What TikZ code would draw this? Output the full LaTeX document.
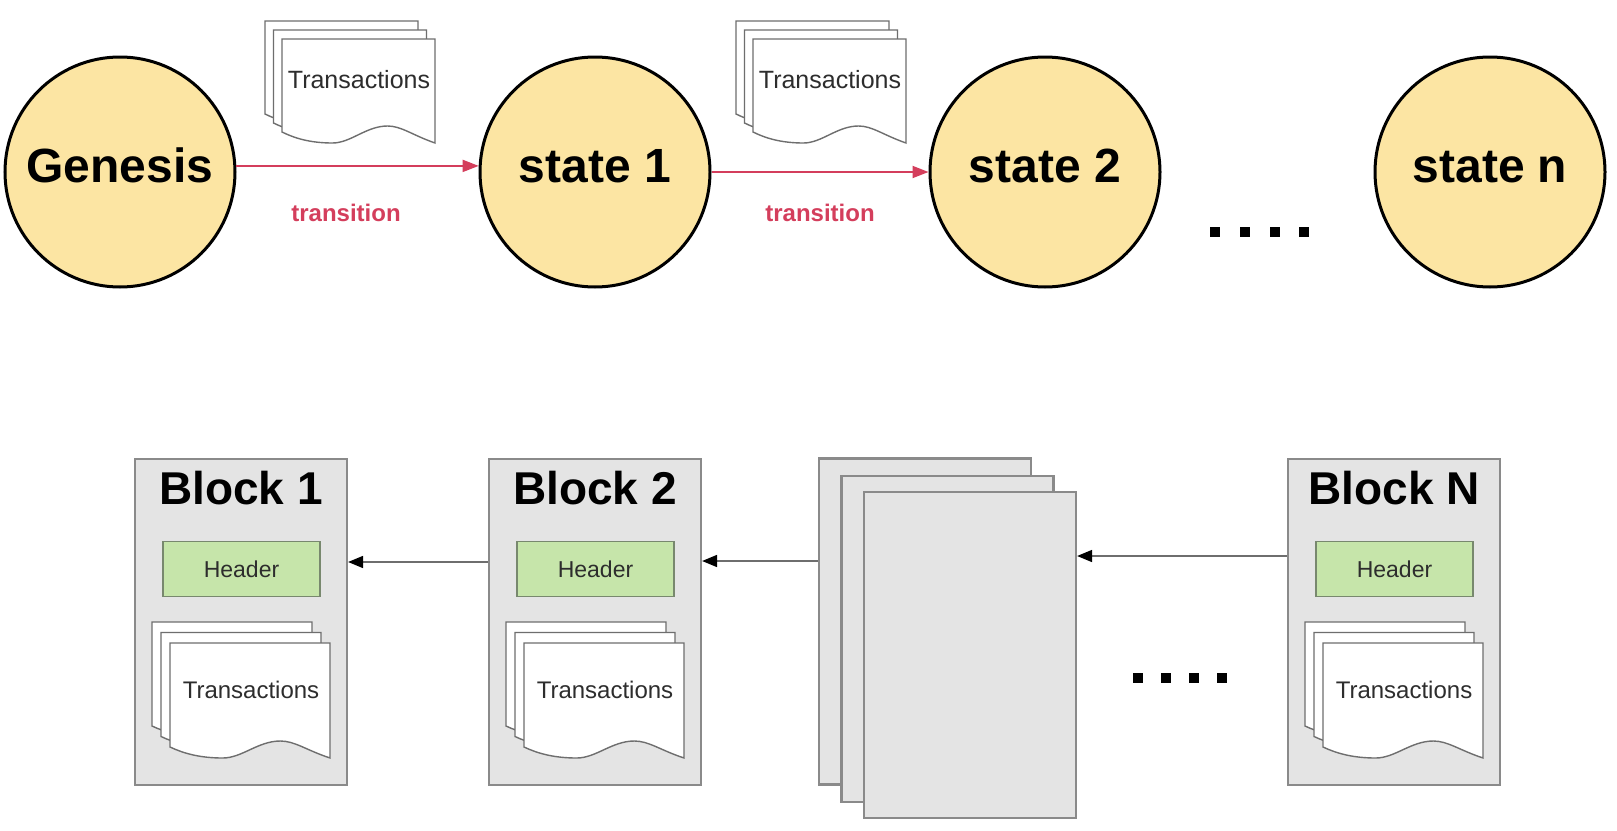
\documentclass[tikz,border=0pt]{standalone}
\usepackage{fontspec}
\setmainfont{Liberation Sans}
\usetikzlibrary{arrows.meta,calc}
\definecolor{circfill}{RGB}{252,229,163}
\definecolor{transred}{RGB}{212,62,92}
\definecolor{blockfill}{RGB}{228,228,228}
\definecolor{blockline}{RGB}{138,138,138}
\definecolor{hdrfill}{RGB}{198,229,170}
\definecolor{hdrline}{RGB}{120,136,110}
\definecolor{docline}{RGB}{110,110,110}
\definecolor{txtgray}{RGB}{45,45,45}
\newcommand\docsheet[4]{%
  \begin{scope}[shift={(#1,#2)}]
    \filldraw[docstroke] (0,0) -- (#3,0) -- (#3,#4)
      .. controls ({0.85*#3},{#4-8}) and ({0.78*#3},{#4-17}) .. ({0.69*#3},{#4-17})
      .. controls ({0.55*#3},{#4-17}) and ({0.45*#3},#4) .. ({0.33*#3},#4)
      .. controls ({0.18*#3},#4) and ({0.08*#3},{#4-5}) .. (0,{#4-11}) -- cycle;
  \end{scope}}
\newcommand\multidoc[6]{%
  \docsheet{#1}{#2}{#3}{#4}%
  \docsheet{#1+#5}{#2+#6}{#3}{#4}%
  \docsheet{#1+2*#5}{#2+2*#6}{#3}{#4}}
\tikzset{
  docstroke/.style={draw=docline, fill=white, line width=1.4pt},
  statenode/.style={circle, draw=black, fill=circfill, line width=3pt, minimum size=230, inner sep=0,
    text height=34pt, text depth=13pt,
    font=\bfseries\fontsize{48}{56}\selectfont},
  translabel/.style={text=transred, font=\bfseries\fontsize{24}{28}\selectfont, inner sep=0},
  redarrow/.style={draw=transred, line width=1.8pt, -{Triangle[length=16pt,width=12pt]}},
  blackarrow/.style={draw=docline, line width=1.6pt, -{Triangle[length=15pt,width=12pt,color=black,fill=black]}},
  blockbox/.style={draw=blockline, fill=blockfill, line width=2.2pt, minimum width=212, minimum height=326, inner sep=0},
  blocktitle/.style={font=\bfseries\fontsize{46}{52}\selectfont, inner sep=0},
  hdrbox/.style={draw=hdrline, fill=hdrfill, line width=1.8pt, minimum width=157, minimum height=55, inner sep=0,
    text=txtgray, font=\fontsize{23}{27}\selectfont},
  txtlabel/.style={text=txtgray, inner sep=0},
  dotsq/.style={fill=black, minimum size=10, inner sep=0},
}
\begin{document}
\begin{tikzpicture}[x=1pt, y=-1pt]
\useasboundingbox (0,0) rectangle (1617,830);
\fill[white] (0,0) rectangle (1617,830);

% ---------- top row ----------
\multidoc{265}{21}{153}{104}{8.5}{9}
\node[txtlabel, font=\fontsize{25}{29}\selectfont] (tx1) at (359,80) {Transactions};
\multidoc{736}{21}{153}{104}{8.5}{9}
\node[txtlabel, font=\fontsize{25}{29}\selectfont] (tx2) at (830,80) {Transactions};

\node[statenode] (gen) at (120,172) {Genesis};
\node[statenode] (s1) at (595,172) {state 1};
\node[statenode] (s2) at (1045,172) {state 2};
\node[statenode] (sn) at (1490,172) {state n};

\draw[redarrow] (gen.3) -- (s1.177);
\draw[redarrow] (s1.east) -- (s2.west);
\node[translabel] (t1) at (346,213) {transition};
\node[translabel] (t2) at (820,213) {transition};

\node[dotsq] (ta) at (1215,232) {};
\node[dotsq] (tb) at (1245,232) {};
\node[dotsq] (tc) at (1275,232) {};
\node[dotsq] (td) at (1304,232) {};

% ---------- bottom row ----------
% Block 1
\node[blockbox] (b1) at (241,622) {};
\node[blocktitle] (b1t) at (241,488) {Block 1};
\node[hdrbox] (h1) at (241.5,569) {Header};
\multidoc{152}{622}{160}{115}{9}{10.5}
\node[txtlabel, font=\fontsize{24}{28}\selectfont] (x1) at (251,690) {Transactions};

% Block 2
\node[blockbox] (b2) at (595,622) {};
\node[blocktitle] (b2t) at (595,488) {Block 2};
\node[hdrbox] (h2) at (595.5,569) {Header};
\multidoc{506}{622}{160}{115}{9}{10.5}
\node[txtlabel, font=\fontsize{24}{28}\selectfont] (x2) at (605,690) {Transactions};

% stack of pages
\node[blockbox] (pgb) at (925,621.5) {};
\node[blockbox] (pgm) at (947.5,639) {};
\node[blockbox] (pgf) at (970,655) {};

% Block N
\node[blockbox] (bN) at (1394,622) {};
\node[blocktitle] (bNt) at (1394,488) {Block N};
\node[hdrbox] (hN) at (1394.5,569) {Header};
\multidoc{1305}{622}{160}{115}{9}{10.5}
\node[txtlabel, font=\fontsize{24}{28}\selectfont] (xN) at (1404,690) {Transactions};

\draw[blackarrow] (b2.west |- 0,562) -- (b1.east |- 0,562);
\draw[blackarrow] (pgb.west |- 0,561) -- (b2.east |- 0,561);
\draw[blackarrow] (bN.west |- 0,556) -- (pgf.east |- 0,556);

\node[dotsq] (ba) at (1138,678) {};
\node[dotsq] (bb) at (1166,678) {};
\node[dotsq] (bc) at (1194,678) {};
\node[dotsq] (bd) at (1222,678) {};
\end{tikzpicture}
\end{document}
